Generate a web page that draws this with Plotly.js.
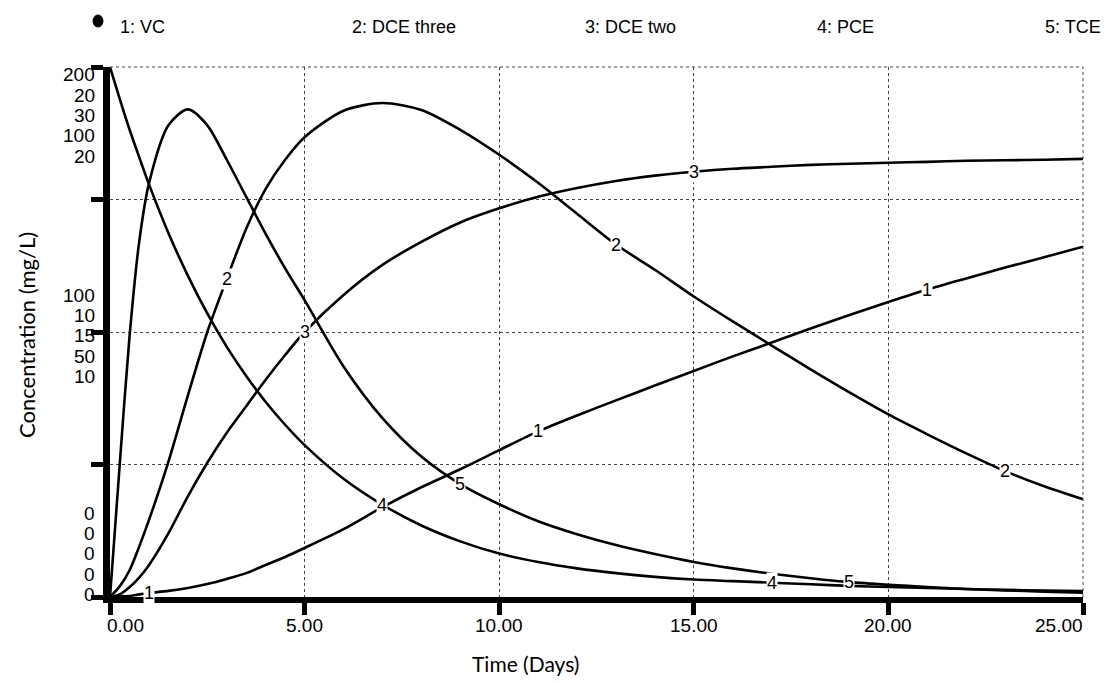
<!DOCTYPE html>
<html><head><meta charset="utf-8">
<script src="https://cdn.plot.ly/plotly-3.0.1.min.js"></script>
<style>html,body{margin:0;padding:0;background:#fff}#chart{width:1108px;height:683px}</style>
</head><body><div id="chart"></div>
<script>
// ---- data ----
const time = [0,0.25,0.5,0.75,1,1.5,2,2.5,3,3.5,4,4.5,5,6,7,8,9,10,11,12,13,14,15,16,17,18,19,20,21,22,23,24,25];
const vc = [0,0.2,0.4,1.0,1.5,2.3,3.4,4.9,6.8,9.0,12.1,15.1,18.5,25.6,33.9,41.4,48.2,55.4,62.5,68.5,74.2,79.8,85.3,90.8,96.0,101.3,106.4,111.3,116.0,120.2,124.3,128.2,132.2];
const dceThree = [0,0.4,1.0,1.9,2.9,5.1,7.6,10.0,12.0,13.9,15.4,16.5,17.35,18.35,18.64,18.38,17.63,16.69,15.63,14.46,13.3,12.35,11.34,10.4,9.49,8.59,7.72,6.89,6.14,5.42,4.75,4.18,3.69];
const dceTwo = [0,0.15,0.55,1.1,1.8,3.6,5.7,7.6,9.3,10.8,12.3,13.7,15.0,17.1,18.8,20.1,21.2,22.0,22.65,23.15,23.55,23.85,24.07,24.24,24.35,24.46,24.52,24.58,24.63,24.69,24.72,24.75,24.8];
const pce = [100,94,88.25,83,77.9,68.7,60.65,53.5,47.2,41.7,36.8,32.5,28.65,22.3,17.4,13.5,10.5,8.2,6.6,5.4,4.5,3.8,3.3,3.0,2.7,2.4,2.1,1.9,1.7,1.5,1.35,1.2,1.1];
const tce = [0,5.0,9.8,13.4,15.6,17.8,18.4,17.8,16.5,15.1,13.7,12.4,11.2,8.7,6.75,5.3,4.26,3.5,2.86,2.37,1.96,1.62,1.32,1.08,0.88,0.71,0.56,0.46,0.38,0.3,0.25,0.2,0.16];

const seriesNames = ['VC','DCE three','DCE two','PCE','TCE'];
const scaleMax = [200,20,30,100,20];
const yTopLabels = ['200','20','30','100','20'];
const yMidLabels = ['100','10','15','50','10'];
const yBottomLabels = ['0','0','0','0','0'];
const xTickVals = [0,5,10,15,20,25];
const xTickText = ['0.00','5.00','10.00','15.00','20.00','25.00'];
const xTitle = 'Time (Days)';
const yTitle = 'Concentration (mg/L)';

// ---- layout geometry ----
const FW = 1108, FH = 683;
const L = 110, R = 1083, T = 67, B = 597;
const W = R - L, H = B - T;
const px = x => (x - L) / W;
const py = y => (B - y) / H;

const seriesValues = [vc, dceThree, dceTwo, pce, tce];
const axisIds = ['y','y2','y3','y4','y5'];

const traces = seriesValues.map((v, i) => ({
  type: 'scatter', mode: 'lines', x: time, y: v, yaxis: axisIds[i],
  name: (i + 1) + ': ' + seriesNames[i],
  line: {color: '#000', width: 2.6, shape: 'spline', smoothing: 0.8},
  hoverinfo: 'x+y+name'
}));

const sans = '"Liberation Sans", Arial, sans-serif';
const annotations = [];

// stacked y-axis scale labels
const labelX = px(97);
[[yTopLabels, 74.7], [yMidLabels, 295], [yBottomLabels, 513]].forEach(([labels, start]) => {
  labels.forEach((t, i) => {
    annotations.push({xref: 'paper', yref: 'paper', x: labelX, y: py(start + 20.4 * i),
      xanchor: 'right', yanchor: 'middle', text: t, showarrow: false,
      font: {family: sans, size: 19, color: '#000'}});
  });
});

// x tick labels
xTickVals.forEach((v, i) => {
  const last = i === xTickVals.length - 1;
  annotations.push({xref: 'x', yref: 'paper', x: v, y: py(625),
    xanchor: i === 0 ? 'left' : (last ? 'right' : 'center'), xshift: i === 0 ? -5 : (last ? 2 : 0),
    yanchor: 'middle', text: xTickText[i], showarrow: false,
    font: {family: sans, size: 19, color: '#000'}});
});

// legend across the top
const legendLeft = [118, 350, 583, 815, 1043];
seriesNames.forEach((n, i) => {
  annotations.push({xref: 'paper', yref: 'paper', x: px(legendLeft[i]), y: py(27),
    xanchor: 'left', yanchor: 'middle', text: (i + 1) + ': ' + n, showarrow: false,
    font: {family: sans, size: 18, color: '#000'}});
});

// numbered curve labels (STELLA style)
seriesValues.forEach((v, i) => {
  for (let t = 2 * i + 1; t <= 24; t += 10) {
    const k = time.indexOf(t);
    annotations.push({xref: 'x', yref: axisIds[i], x: t, y: v[k], text: String(i + 1),
      showarrow: false, xanchor: 'center', yanchor: 'middle', bgcolor: '#fff', borderpad: 0,
      font: {family: sans, size: 18, color: '#000'}});
  }
});

// axis titles
annotations.push({xref: 'paper', yref: 'paper', x: px(525), y: py(663), xanchor: 'center', yanchor: 'middle',
  text: xTitle, showarrow: false, font: {family: 'Lato, "Open Sans", sans-serif', size: 21, color: '#000'}});
annotations.push({xref: 'paper', yref: 'paper', x: px(26), y: py(335), xanchor: 'center', yanchor: 'middle',
  text: yTitle, textangle: -90, showarrow: false, font: {family: 'Lato, "Open Sans", sans-serif', size: 22, color: '#000'}});

const shapes = [
  {type: 'line', xref: 'paper', yref: 'paper', x0: 0, x1: 1, y0: 1, y1: 1, line: {color: '#444', width: 1, dash: 'dot'}},
  {type: 'line', xref: 'paper', yref: 'paper', x0: 1, x1: 1, y0: 0, y1: 1, line: {color: '#444', width: 1, dash: 'dot'}},
  {type: 'circle', xref: 'paper', yref: 'paper', x0: px(93), x1: px(103), y0: py(27), y1: py(15), fillcolor: '#000', line: {color: '#000', width: 1}}
];

const gridStyle = {showgrid: true, gridcolor: '#444', gridwidth: 1, griddash: 'dot'};
const layout = {
  width: FW, height: FH,
  margin: {l: L, r: FW - R, t: T, b: FH - B, pad: 0},
  paper_bgcolor: '#fff', plot_bgcolor: '#fff', showlegend: false,
  xaxis: Object.assign({range: [0, 25], tickvals: xTickVals, showticklabels: false, ticks: 'outside',
    ticklen: 12, tickwidth: 5, tickcolor: '#000', showline: true, linewidth: 6, linecolor: '#000',
    zeroline: false, fixedrange: true}, gridStyle),
  yaxis: Object.assign({range: [0, scaleMax[0]], tickvals: [0, 0.25, 0.5, 0.75, 1].map(f => f * scaleMax[0]),
    showticklabels: false, ticks: 'outside', ticklen: 12, tickwidth: 5, tickcolor: '#000',
    showline: true, linewidth: 7, linecolor: '#000', zeroline: false, fixedrange: true}, gridStyle),
  annotations: annotations,
  shapes: shapes
};
for (let i = 1; i < 5; i++) {
  layout['yaxis' + (i + 1)] = {overlaying: 'y', range: [0, scaleMax[i]], visible: false, fixedrange: true};
}

Plotly.newPlot('chart', traces, layout, {displayModeBar: false, staticPlot: true});
</script>
</body></html>
